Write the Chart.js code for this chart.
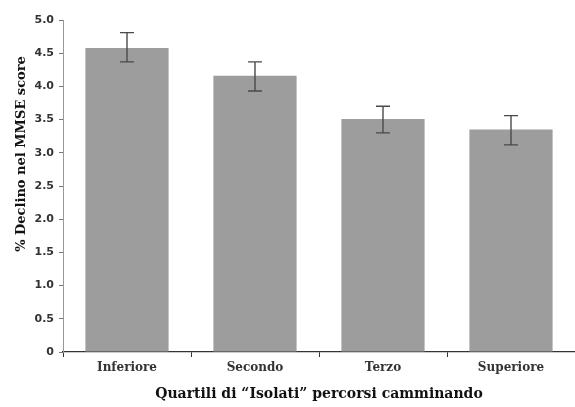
<!DOCTYPE html>
<html>
<head>
<meta charset="utf-8">
<script src="https://cdn.jsdelivr.net/npm/chart.js@4/dist/chart.umd.min.js"></script>
<style>
  html, body { margin: 0; padding: 0; background: #fff; }
  #wrap { width: 575px; height: 407px; position: relative; }
</style>
</head>
<body>
<div id="wrap"><canvas id="c"></canvas></div>
<script>
  // data
  var categories = ["Inferiore", "Secondo", "Terzo", "Superiore"];
  var values = [4.58, 4.16, 3.51, 3.35];
  var errLow = [4.37, 3.93, 3.30, 3.12];
  var errHigh = [4.81, 4.37, 3.70, 3.56];
  var yTicks = [0, 0.5, 1.0, 1.5, 2.0, 2.5, 3.0, 3.5, 4.0, 4.5, 5.0];
  var yTitle = "% Declino nel MMSE score";

  var SERIF = "'DejaVu Serif','Liberation Serif',serif";
  var SANS = "'DejaVu Sans',sans-serif";
  var BAR = "#9d9d9d";
  var INK = "#333";

  // error bars drawn through the chart's own scales
  var errorBars = {
    id: "errorBars",
    afterDatasetsDraw: function (chart) {
      var ctx = chart.ctx, x = chart.scales.x, y = chart.scales.y;
      ctx.save();
      ctx.strokeStyle = "#4a4a4a";
      ctx.lineWidth = 1.4;
      categories.forEach(function (c, i) {
        var cx = x.getPixelForValue(i);
        var yt = y.getPixelForValue(errHigh[i]);
        var yb = y.getPixelForValue(errLow[i]);
        ctx.beginPath();
        ctx.moveTo(cx, yt); ctx.lineTo(cx, yb);
        ctx.moveTo(cx - 7, yt); ctx.lineTo(cx + 7, yt);
        ctx.moveTo(cx - 7, yb); ctx.lineTo(cx + 7, yb);
        ctx.stroke();
      });
      ctx.restore();
    }
  };

  // y title sits above the axis midpoint in the original, so draw it by hand
  var yTitlePlugin = {
    id: "yTitle",
    afterDraw: function (chart) {
      var ctx = chart.ctx;
      ctx.save();
      ctx.translate(22, 154);
      ctx.rotate(-Math.PI / 2);
      ctx.fillStyle = "#111";
      ctx.font = "bold 13px " + SERIF;
      ctx.textAlign = "center";
      ctx.textBaseline = "middle";
      ctx.fillText(yTitle, 0, 0);
      ctx.restore();
    }
  };

  new Chart(document.getElementById("c").getContext("2d"), {
    type: "bar",
    data: {
      labels: categories,
      datasets: [{
        data: values,
        backgroundColor: BAR,
        borderWidth: 0,
        categoryPercentage: 1,
        barPercentage: 0.65
      }]
    },
    options: {
      responsive: true,
      maintainAspectRatio: false,
      animation: false,
      layout: { padding: { top: 20, right: 0, left: 0, bottom: 0 } },
      plugins: { legend: { display: false }, tooltip: { enabled: false } },
      scales: {
        x: {
          offset: true,
          grid: { offset: true, drawOnChartArea: false, drawTicks: true, tickLength: 5, color: INK },
          border: { color: INK, width: 1.3 },
          ticks: { color: INK, padding: 4, font: { family: SERIF, size: 12, weight: "bold" } },
          title: {
            display: true, text: "Quartili di “Isolati” percorsi camminando",
            color: "#111", padding: { top: 6 },
            font: { family: SERIF, size: 14, weight: "bold" }
          },
          afterFit: function (s) { s.height = 55; }
        },
        y: {
          min: 0, max: 5,
          afterBuildTicks: function (s) { s.ticks = yTicks.map(function (v) { return { value: v }; }); },
          grid: { drawOnChartArea: false, drawTicks: true, tickLength: 4, color: "#777" },
          border: { color: "#999", width: 1 },
          ticks: {
            color: INK, padding: 5,
            font: { family: SANS, size: 11, weight: "bold" },
            callback: function (v) { return v === 0 ? "0" : Number(v).toFixed(1); }
          },
          afterFit: function (s) { s.width = 63; }
        }
      }
    },
    plugins: [errorBars, yTitlePlugin]
  });
</script>
</body>
</html>
